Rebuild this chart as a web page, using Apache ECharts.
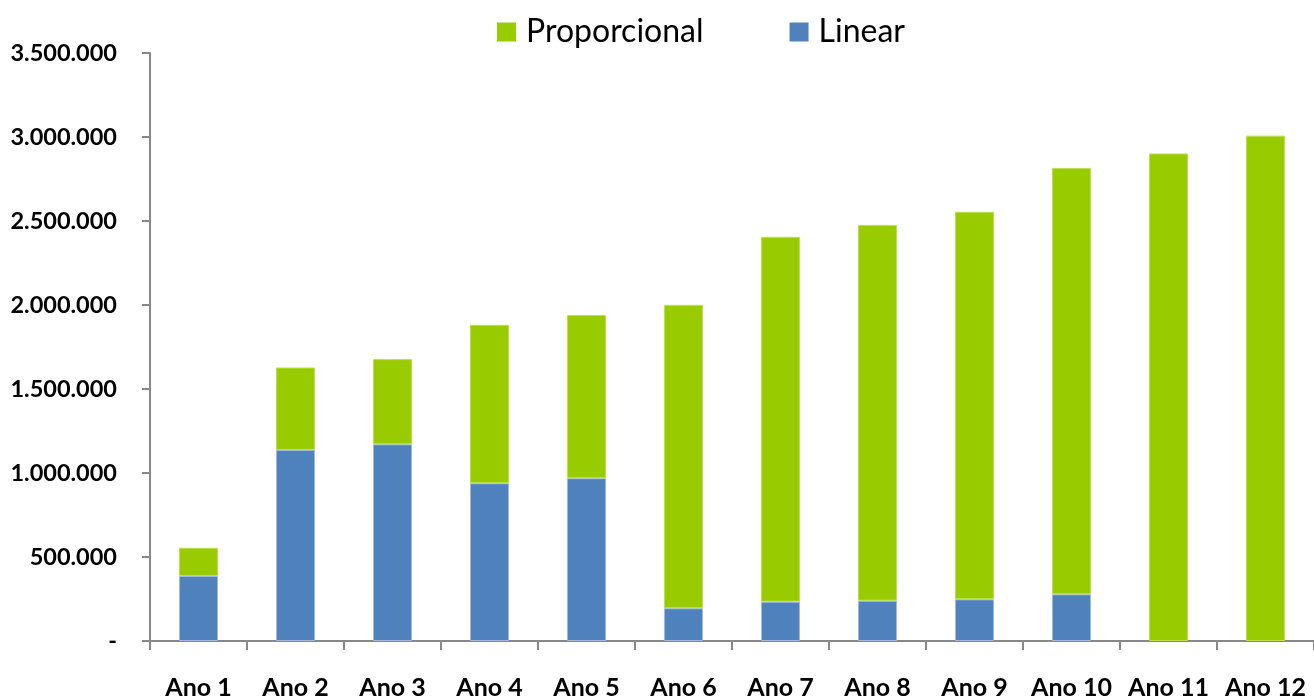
<!DOCTYPE html>
<html>
<head>
<meta charset="utf-8">
<script src="https://cdn.jsdelivr.net/npm/echarts@6/dist/echarts.min.js"></script>
<style>
  html, body { margin: 0; padding: 0; background: #fff; }
  #chart { width: 1314px; height: 696px; }
</style>
</head>
<body>
<div id="chart"></div>
<script>
// Categories (years) and stacked values per series
const categories = ['Ano 1', 'Ano 2', 'Ano 3', 'Ano 4', 'Ano 5', 'Ano 6',
                    'Ano 7', 'Ano 8', 'Ano 9', 'Ano 10', 'Ano 11', 'Ano 12'];
const linear = [387000, 1137000, 1171000, 939000, 969000, 195000,
                234000, 240000, 248000, 278000, 0, 0];
const proporcional = [168000, 491000, 507000, 943000, 972000, 1806000,
                      2172000, 2237000, 2307000, 2538000, 2902000, 3008000];
const yTicks = { min: 0, max: 3500000, interval: 500000 };

const FONT = 'Lato, "Open Sans", "Noto Sans", sans-serif';
const AXIS_COLOR = '#888888';

// Brazilian thousands format; zero shown as a dash
function fmt(v) {
  if (v === 0) return '-';
  return String(Math.round(v)).replace(/\B(?=(\d{3})+(?!\d))/g, '.');
}

// Light edge only on bars that actually have height
function withEdge(values, edge) {
  return values.map(v => v > 0
    ? { value: v, itemStyle: { borderColor: edge, borderWidth: 1 } }
    : { value: v, itemStyle: { borderWidth: 0 } });
}

const chart = echarts.init(document.getElementById('chart'), null, { renderer: 'canvas' });
chart.setOption({
  animation: false,
  backgroundColor: '#ffffff',
  legend: {
    data: ['Proporcional', 'Linear'],
    left: 492,
    top: 11,
    padding: [5, 5, 5, 5],
    itemWidth: 19,
    itemHeight: 19,
    itemGap: 86,
    icon: 'rect',
    textStyle: { fontFamily: FONT, fontSize: 32, color: '#000', padding: [0, 0, 0, 5] }
  },
  grid: { left: 150, right: 0, top: 53, bottom: 55, containLabel: false,
          outerBoundsMode: 'none' },
  xAxis: {
    type: 'category',
    data: categories,
    boundaryGap: true,
    axisLine: { show: true, lineStyle: { color: AXIS_COLOR, width: 2 } },
    axisTick: { show: true, interval: 0, length: 9, alignWithLabel: false,
                lineStyle: { color: AXIS_COLOR, width: 2 } },
    axisLabel: { interval: 0, margin: 34, fontFamily: FONT, fontWeight: 'bold',
                 fontSize: 25, color: '#000' },
    splitLine: { show: false }
  },
  yAxis: {
    type: 'value',
    min: yTicks.min,
    max: yTicks.max,
    interval: yTicks.interval,
    axisLine: { show: true, lineStyle: { color: AXIS_COLOR, width: 2 } },
    axisTick: { show: true, length: 8, lineStyle: { color: AXIS_COLOR, width: 2 } },
    axisLabel: { margin: 33, fontFamily: FONT, fontWeight: 'bold', fontSize: 23.5,
                 color: '#000', formatter: fmt },
    splitLine: { show: false }
  },
  series: [
    {
      name: 'Linear',
      type: 'bar',
      stack: 'total',
      barWidth: 39,
      data: withEdge(linear, '#9fbadc'),
      itemStyle: { color: '#4F81BD' }
    },
    {
      name: 'Proporcional',
      type: 'bar',
      stack: 'total',
      barWidth: 39,
      data: withEdge(proporcional, '#bde04a'),
      itemStyle: { color: '#99CC00' }
    }
  ]
});
</script>
</body>
</html>
